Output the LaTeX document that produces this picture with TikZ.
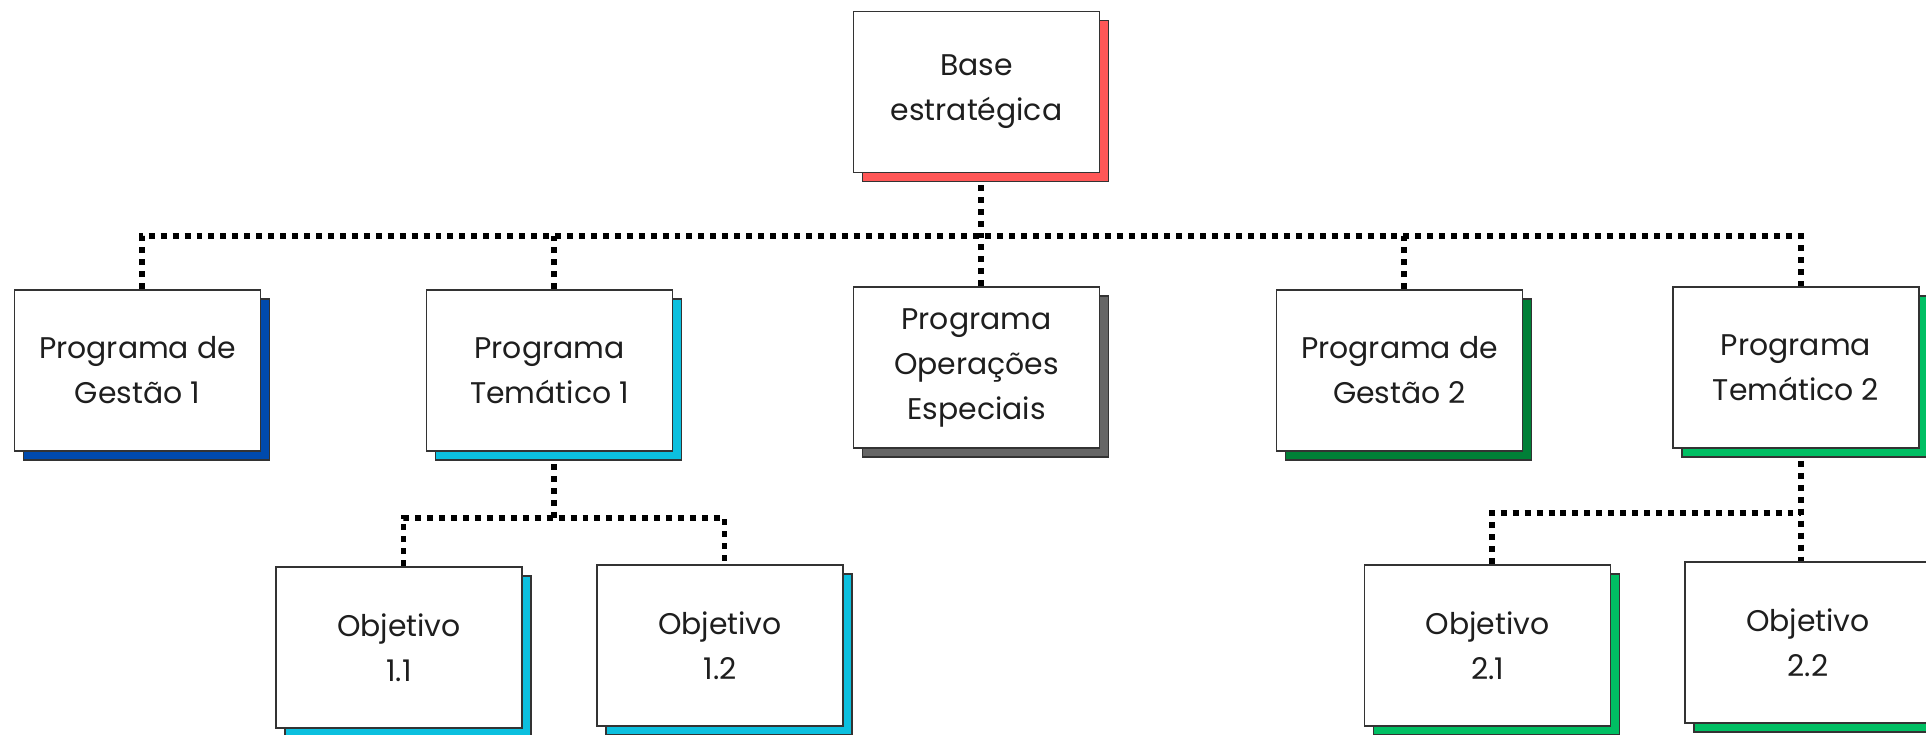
\documentclass[tikz,border=0pt]{standalone}
\usepackage{fontspec}
\setmainfont{Poppins}
\usetikzlibrary{shadows}
\usetikzlibrary{backgrounds}

\definecolor{borda}{HTML}{333333}
\definecolor{texto}{HTML}{1E1E1E}
\definecolor{vermelho}{HTML}{FF5757}
\definecolor{azul}{HTML}{004AAD}
\definecolor{ciano}{HTML}{0CC0DF}
\definecolor{cinza}{HTML}{666666}
\definecolor{verdeescuro}{HTML}{008037}
\definecolor{verde}{HTML}{00BF63}

\begin{document}
\begin{tikzpicture}

		\tikzstyle{caixa} = [rectangle, draw=borda, line width=1.1pt, fill=white, text=texto, minimum width=4.92cm, minimum height=3.22cm, inner sep=0pt, align=center, font=\fontsize{17}{25.6}\selectfont]
		\tikzset{sombra/.style={general shadow={fill=#1, draw=borda, line width=1.1pt, shadow xshift=0.18cm, shadow yshift=-0.18cm}}}
		\tikzstyle{pontilhado} = [line width=3.4pt, dash pattern=on 3.4pt off 3.4pt]

		\useasboundingbox (0,0) rectangle (38.52,14.68);

		\node [caixa, sombra=vermelho](base) at (19.53, 12.84) {Base\\estratégica};

		%%Programas
		\node [caixa, sombra=azul](pg1) at (2.75, 7.27) {Programa de\\Gestão 1};
		\node [caixa, sombra=ciano](pt1) at (10.99, 7.27) {Programa\\Temático 1};
		\node [caixa, sombra=cinza](poe) at (19.53, 7.33) {Programa\\Operações\\Especiais};
		\node [caixa, sombra=verdeescuro](pg2) at (27.99, 7.27) {Programa de\\Gestão 2};
		\node [caixa, sombra=verde](pt2) at (35.92, 7.33) {Programa\\Temático 2};

		%%Objetivos
		\node [caixa, sombra=ciano](o11) at (7.98, 1.73) {Objetivo\\1.1};
		\node [caixa, sombra=ciano](o12) at (14.40, 1.77) {Objetivo\\1.2};
		\node [caixa, sombra=verde](o21) at (29.75, 1.77) {Objetivo\\2.1};
		\node [caixa, sombra=verde](o22) at (36.16, 1.83) {Objetivo\\2.2};

		%%Barras
		\coordinate (barra) at (0, 9.96);
		\coordinate (barra1) at (0, 4.32);
		\coordinate (barra2) at (0, 4.42);

		\begin{scope}[on background layer]
		\draw [pontilhado] ([xshift=0.09cm]base.south) -- ([xshift=0.09cm]base.south |- barra);
		\draw [pontilhado] ([xshift=0.09cm]pg1.north) |- ([xshift=0.09cm]pt2.north |- barra) -- ([xshift=0.09cm]pt2.north);
		\draw [pontilhado] ([xshift=0.09cm]pt1.north) -- ([xshift=0.09cm]pt1.north |- barra);
		\draw [pontilhado] ([xshift=0.09cm]poe.north) -- ([xshift=0.09cm]poe.north |- barra);
		\draw [pontilhado] ([xshift=0.09cm]pg2.north) -- ([xshift=0.09cm]pg2.north |- barra);

		\draw [pontilhado] ([xshift=0.09cm]pt1.south) -- ([xshift=0.09cm]pt1.south |- barra1);
		\draw [pontilhado] ([xshift=0.09cm]o11.north) |- ([xshift=0.09cm]o12.north |- barra1) -- ([xshift=0.09cm]o12.north);

		\draw [pontilhado] ([xshift=0.09cm]pt2.south) -- ([xshift=0.09cm]pt2.south |- o22.north);
		\draw [pontilhado] ([xshift=0.09cm]o21.north) |- ([xshift=0.09cm]pt2.south |- barra2);
		\end{scope}
	\end{tikzpicture}
\end{document}
